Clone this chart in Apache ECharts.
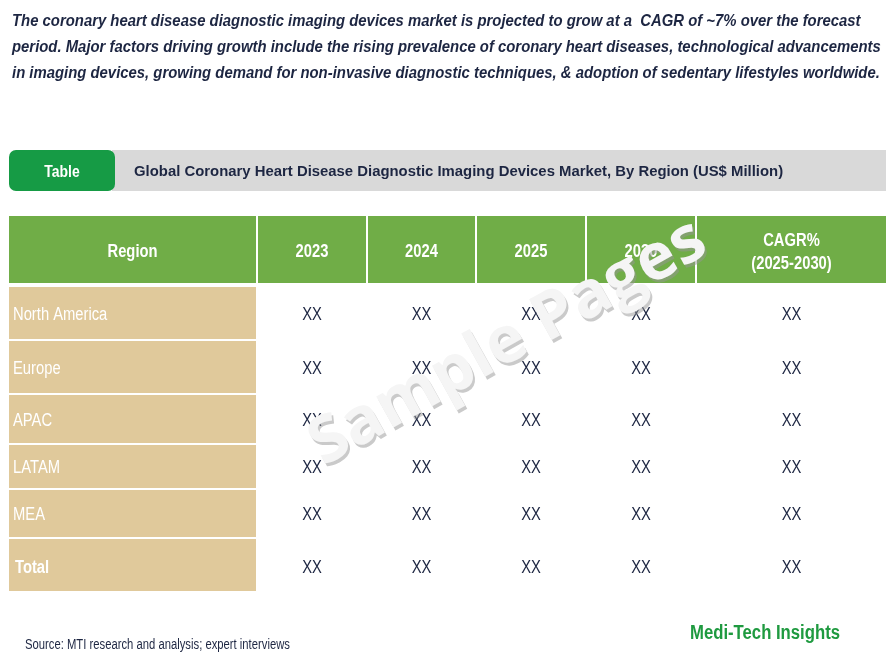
<!DOCTYPE html>
<html>
<head>
<meta charset="utf-8">
<script src="https://cdn.jsdelivr.net/npm/echarts@6/dist/echarts.min.js"></script>
<style>
  html, body { margin: 0; padding: 0; background: #fff; }
  #main { width: 892px; height: 652px; }
</style>
</head>
<body>
<div id="main"></div>
<script>
// text content
const introLines = [
  'The coronary heart disease diagnostic imaging devices market is projected to grow at a  CAGR of ~7% over the forecast',
  'period. Major factors driving growth include the rising prevalence of coronary heart diseases, technological advancements',
  'in imaging devices, growing demand for non-invasive diagnostic techniques, & adoption of sedentary lifestyles worldwide.'
]
const tabLabel = 'Table'
const tableTitle = 'Global Coronary Heart Disease Diagnostic Imaging Devices Market, By Region (US$ Million)'
const columns = ['Region', '2023', '2024', '2025', '2030', 'CAGR%\n(2025-2030)']
const regions = ['North America', 'Europe', 'APAC', 'LATAM', 'MEA', 'Total']
const northAmerica = ['XX', 'XX', 'XX', 'XX', 'XX']
const europe = ['XX', 'XX', 'XX', 'XX', 'XX']
const apac = ['XX', 'XX', 'XX', 'XX', 'XX']
const latam = ['XX', 'XX', 'XX', 'XX', 'XX']
const mea = ['XX', 'XX', 'XX', 'XX', 'XX']
const total = ['XX', 'XX', 'XX', 'XX', 'XX']
const rows = [northAmerica, europe, apac, latam, mea, total]
const sourceNote = 'Source: MTI research and analysis; expert interviews'
const brand = 'Medi-Tech Insights'
const watermark = 'Sample Pages'

// layout
const colEdges = [9, 258, 368, 477, 587, 697, 888]
const rowEdges = [287, 341, 395, 445, 490, 539, 593]
const headTop = 216
const headBottom = 283
const SANS = '"Liberation Sans", Arial, sans-serif'
const NARROW = 0.82 // no Arial Narrow installed: squeeze Liberation Sans
const NAVY = '#1d2642'

const chart = echarts.init(document.getElementById('main'))
const g = []

// narrow text helper
function ntext(x, y, text, font, fill, extra, sx) {
  return {
    type: 'text', x: x, y: y, scaleX: sx || NARROW,
    style: Object.assign({ text: text, font: font, fill: fill, verticalAlign: 'middle' }, extra || {})
  }
}

// intro paragraph
introLines.forEach((line, i) => {
  g.push(ntext(12, 21 + i * 26, line, 'italic bold 17px ' + SANS, NAVY, null, 0.875))
})

// title bar
g.push({ type: 'rect', shape: { x: 112, y: 150, width: 774, height: 41 }, style: { fill: '#d9d9d9' } })
g.push({ type: 'rect', shape: { x: 9, y: 150, width: 106, height: 41, r: 7 }, style: { fill: '#169b45' } })
g.push(ntext(62, 172, tabLabel, 'bold 17px ' + SANS, '#fff', { align: 'center' }))
g.push({
  type: 'text', x: 134, y: 172, scaleX: 0.96,
  style: { text: tableTitle, font: 'bold 15.5px ' + SANS, fill: NAVY, verticalAlign: 'middle' }
})

// header row
columns.forEach((name, c) => {
  const x0 = colEdges[c], x1 = colEdges[c + 1] - 2
  g.push({ type: 'rect', shape: { x: x0, y: headTop, width: x1 - x0, height: headBottom - headTop }, style: { fill: '#70ad47' } })
  g.push(ntext((x0 + x1) / 2, (headTop + headBottom) / 2 + 3, name, 'bold 18px ' + SANS, '#fff',
    { align: 'center', lineHeight: 23 }))
})

// body rows
regions.forEach((reg, r) => {
  const y0 = rowEdges[r], y1 = rowEdges[r + 1] - 2
  const isTotal = r === rows.length - 1
  const yc = (y0 + y1) / 2 + (isTotal ? 3 : 2)
  g.push({ type: 'rect', shape: { x: colEdges[0], y: y0, width: colEdges[1] - 2 - colEdges[0], height: y1 - y0 }, style: { fill: '#e0c99b' } })
  g.push(ntext(isTotal ? 15 : 13, yc, reg, (isTotal ? 'bold ' : '') + '18px ' + SANS, '#fff'))
  rows[r].forEach((v, c) => {
    const x0 = colEdges[c + 1], x1 = colEdges[c + 2] - 2
    g.push(ntext((x0 + x1) / 2, yc, v, '18px ' + SANS, NAVY, { align: 'center' }))
  })
})

// footer
g.push(ntext(25, 645, sourceNote, '14px ' + SANS, NAVY, null, 0.805))
g.push(ntext(690, 633, brand, 'bold 20px ' + SANS, '#1f9a40', null, 0.835))

// watermark: grey shadow copy, then light face on top
const wmX = 508, wmY = 343, wmRot = 29 * Math.PI / 180
const wmFont = 'bold 65px "Open Sans", sans-serif'
g.push({
  type: 'text', x: wmX + 2, y: wmY + 3, rotation: wmRot,
  style: { text: watermark, font: wmFont, fill: 'rgba(150,150,150,0.5)', align: 'center', verticalAlign: 'middle',
    shadowColor: 'rgba(0,0,0,0.3)', shadowBlur: 5 }
})
g.push({
  type: 'text', x: wmX, y: wmY, rotation: wmRot,
  style: { text: watermark, font: wmFont, fill: '#f5f5f5', align: 'center', verticalAlign: 'middle' }
})

chart.setOption({ animation: false, graphic: { elements: g } })
</script>
</body>
</html>
